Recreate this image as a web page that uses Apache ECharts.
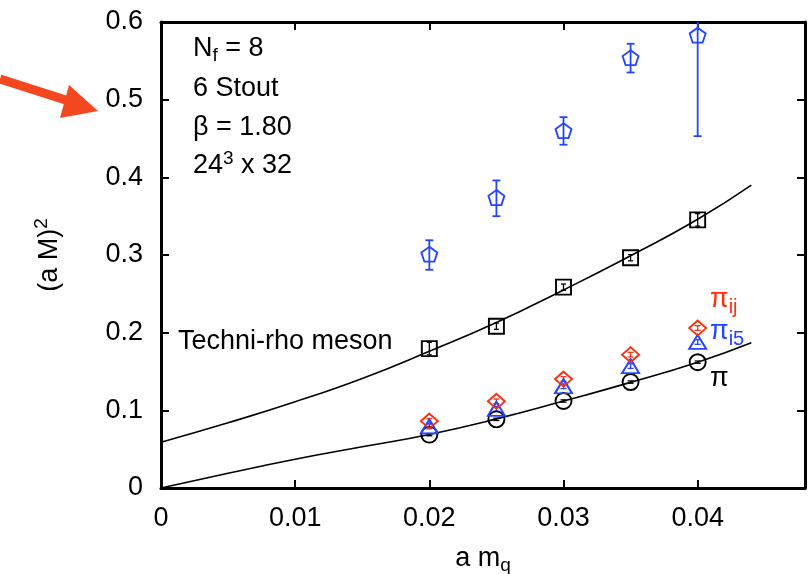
<!DOCTYPE html>
<html>
<head>
<meta charset="utf-8">
<script src="https://cdn.jsdelivr.net/npm/echarts@6/dist/echarts.min.js"></script>
<style>
  html, body { margin: 0; padding: 0; background: #fff; }
  #chart { width: 811px; height: 574px; }
</style>
</head>
<body>
<div id="chart"></div>
<script>
// Bare quark masses of the ensembles
const massQ = [0.02, 0.025, 0.03, 0.035, 0.04];

// Techni-rho meson (squares)
const rhoVal = [0.1795, 0.2083, 0.2586, 0.2965, 0.3452];
const rhoErr = [0.008, 0.004, 0.004, 0.004, 0.008];

// Goldstone pion (circles)
const piVal = [0.0687, 0.0884, 0.1120, 0.1364, 0.1620];
const piErr = [0.0015, 0.0015, 0.0015, 0.0015, 0.0015];

// pi_ij (diamonds)
const piIjVal = [0.0862, 0.1116, 0.1403, 0.1717, 0.2060];
const piIjErr = [0.003, 0.003, 0.003, 0.003, 0.003];

// pi_i5 (triangles)
const piI5Val = [0.0794, 0.1020, 0.1310, 0.1570, 0.1880];
const piI5Err = [0.003, 0.003, 0.003, 0.003, 0.003];

// Heavier state (pentagons), asymmetric errors: lower / upper ends
const pentVal = [0.301, 0.374, 0.460, 0.554, 0.583];
const pentLo  = [0.281, 0.350, 0.442, 0.535, 0.453];
const pentHi  = [0.319, 0.396, 0.4775, 0.572, 0.630];

// Fit curves, sampled along the quark mass
const fitX     = [0, 0.005, 0.01, 0.015, 0.02, 0.025, 0.03, 0.035, 0.04, 0.044];
const rhoFit   = [0.059, 0.084, 0.111, 0.141, 0.176, 0.213, 0.255, 0.299, 0.346, 0.390];
const piFit    = [0.000, 0.019, 0.037, 0.053, 0.069, 0.089, 0.112, 0.136, 0.162, 0.187];

// Tick labels
const xTicks = [0, 0.01, 0.02, 0.03, 0.04];
const yTicks = [0, 0.1, 0.2, 0.3, 0.4, 0.5, 0.6];

const FONT = '"Liberation Sans", Arial, Helvetica, sans-serif';
const FS = 27;
const RED = '#ff2e0c';
const BLUE = '#2444ff';

const zip = (xs, ys) => xs.map((x, i) => [x, ys[i]]);
const sym = (xs, v, e) => xs.map((x, i) => [x, v[i] - e[i], v[i] + e[i]]);

function errorBars(color, capHalf, lw) {
  return function (params, api) {
    const x = api.value(0), lo = api.value(1), hi = api.value(2);
    const a = api.coord([x, hi]);
    const b = api.coord([x, lo]);
    const style = { stroke: color, lineWidth: lw, fill: null };
    return {
      type: 'group',
      children: [
        { type: 'line', shape: { x1: a[0], y1: a[1], x2: b[0], y2: b[1] }, style },
        { type: 'line', shape: { x1: a[0] - capHalf, y1: a[1], x2: a[0] + capHalf, y2: a[1] }, style },
        { type: 'line', shape: { x1: b[0] - capHalf, y1: b[1], x2: b[0] + capHalf, y2: b[1] }, style }
      ]
    };
  };
}

const pentagon = 'path://M0,-1L0.951,-0.309L0.588,0.809L-0.588,0.809L-0.951,-0.309Z';

const axisLineStyle = { show: true, onZero: false, lineStyle: { color: '#000', width: 3 } };
const tickStyle = (vals) => ({ show: true, inside: true, length: 8, lineStyle: { color: '#000', width: 2 }, customValues: vals });

const chart = echarts.init(document.getElementById('chart'), null, { renderer: 'canvas' });

chart.setOption({
  animation: false,
  backgroundColor: '#fff',
  textStyle: { fontFamily: FONT },
  grid: { left: 161, right: 6, top: 22, bottom: 86, containLabel: false, outerBoundsMode: 'none' },
  xAxis: [
    {
      type: 'value', min: 0, max: 0.048, position: 'bottom',
      axisLine: axisLineStyle,
      axisTick: tickStyle(xTicks),
      axisLabel: { customValues: xTicks, color: '#000', fontSize: FS, fontFamily: FONT, margin: 17,
        formatter: v => String(+v.toFixed(3)) },
      splitLine: { show: false },
      name: 'a m{sub|q}', nameLocation: 'middle', nameGap: 54,
      nameTextStyle: { color: '#000', fontSize: FS, fontFamily: FONT,
        rich: { sub: { fontSize: 19, fontFamily: FONT, color: '#000', padding: [14, 0, 0, 0] } } }
    },
    {
      type: 'value', min: 0, max: 0.048, position: 'top',
      axisLine: axisLineStyle,
      axisTick: tickStyle(xTicks),
      axisLabel: { show: false },
      splitLine: { show: false }
    }
  ],
  yAxis: [
    {
      type: 'value', min: 0, max: 0.6, interval: 0.1, position: 'left',
      axisLine: axisLineStyle,
      axisTick: tickStyle(yTicks),
      axisLabel: { customValues: yTicks, color: '#000', fontSize: FS, fontFamily: FONT, margin: 18,
        formatter: v => String(+v.toFixed(2)) },
      splitLine: { show: false },
      name: '(a M){sup|2}', nameLocation: 'middle', nameGap: 94, nameRotate: 90,
      nameTextStyle: { color: '#000', fontSize: FS, fontFamily: FONT,
        rich: { sup: { fontSize: 19, fontFamily: FONT, color: '#000', padding: [0, 0, 16, 0] } } }
    },
    {
      type: 'value', min: 0, max: 0.6, interval: 0.1, position: 'right',
      axisLine: axisLineStyle,
      axisTick: tickStyle(yTicks),
      axisLabel: { show: false },
      splitLine: { show: false }
    }
  ],
  series: [
    {
      name: 'rho fit', type: 'line', smooth: true, showSymbol: false, silent: true,
      data: zip(fitX, rhoFit), lineStyle: { color: '#000', width: 1.6 }, z: 2
    },
    {
      name: 'pi fit', type: 'line', smooth: true, showSymbol: false, silent: true,
      data: zip(fitX, piFit), lineStyle: { color: '#000', width: 1.6 }, z: 2
    },
    {
      name: 'pent err', type: 'custom', clip: true, renderItem: errorBars(BLUE, 4, 1.8),
      data: massQ.map((x, i) => [x, pentLo[i], pentHi[i]]), z: 3
    },
    {
      name: 'rho err', type: 'custom', clip: true, renderItem: errorBars('#000', 2.5, 1.3),
      data: sym(massQ, rhoVal, rhoErr), z: 3
    },
    {
      name: 'pi err', type: 'custom', clip: true, renderItem: errorBars('#000', 3, 1.3),
      data: sym(massQ, piVal, piErr), z: 3
    },
    {
      name: 'pi_ij err', type: 'custom', clip: true, renderItem: errorBars(RED, 3, 1.3),
      data: sym(massQ, piIjVal, piIjErr), z: 3
    },
    {
      name: 'pi_i5 err', type: 'custom', clip: true, renderItem: errorBars(BLUE, 3, 1.3),
      data: sym(massQ, piI5Val, piI5Err), z: 3
    },
    {
      name: 'pentagon', type: 'scatter', symbol: pentagon, symbolSize: [16, 15],
      data: zip(massQ, pentVal),
      itemStyle: { color: 'rgba(0,0,0,0)', borderColor: BLUE, borderWidth: 1.8, opacity: 1 }, z: 4
    },
    {
      name: 'Techni-rho meson', type: 'scatter', symbol: 'rect', symbolSize: 15,
      data: zip(massQ, rhoVal),
      itemStyle: { color: 'rgba(0,0,0,0)', borderColor: '#000', borderWidth: 1.9, opacity: 1 }, z: 4
    },
    {
      name: 'pi', type: 'scatter', symbol: 'circle', symbolSize: 16,
      data: zip(massQ, piVal),
      itemStyle: { color: 'rgba(0,0,0,0)', borderColor: '#000', borderWidth: 1.9, opacity: 1 }, z: 4
    },
    {
      name: 'pi_i5', type: 'scatter', symbol: 'triangle', symbolSize: [17, 14],
      data: zip(massQ, piI5Val),
      itemStyle: { color: 'rgba(0,0,0,0)', borderColor: BLUE, borderWidth: 1.9, opacity: 1 }, z: 4
    },
    {
      name: 'pi_ij', type: 'scatter', symbol: 'diamond', symbolSize: [17, 15],
      data: zip(massQ, piIjVal),
      itemStyle: { color: 'rgba(0,0,0,0)', borderColor: RED, borderWidth: 1.9, opacity: 1 }, z: 4
    }
  ],
  graphic: [
    // Simulation parameters
    { type: 'text', left: 193, top: 35, z: 10,
      style: { text: 'N{sub|f} = 8', font: FS + 'px ' + FONT, fill: '#000',
        rich: { sub: { fontSize: 19, fontFamily: FONT, fill: '#000', padding: [14, 0, 0, 0] } } } },
    { type: 'text', left: 193, top: 75, z: 10,
      style: { text: '6 Stout', font: FS + 'px ' + FONT, fill: '#000' } },
    { type: 'text', left: 193, top: 114, z: 10,
      style: { text: 'β = 1.80', font: FS + 'px ' + FONT, fill: '#000' } },
    { type: 'text', left: 193, top: 149, z: 10,
      style: { text: '24{sup|3} x 32', font: FS + 'px ' + FONT, fill: '#000',
        rich: { sup: { fontSize: 19, fontFamily: FONT, fill: '#000', padding: [0, 0, 14, 0] } } } },
    // Series labels
    { type: 'text', left: 178, top: 328, z: 10,
      style: { text: 'Techni-rho meson', font: FS + 'px ' + FONT, fill: '#000' } },
    { type: 'text', left: 710, top: 286, z: 10,
      style: { text: 'π{sub|ij}', font: '27px ' + FONT, fill: RED,
        rich: { sub: { fontSize: 20, fontFamily: FONT, fill: RED, padding: [15, 0, 0, 0] } } } },
    { type: 'text', left: 710, top: 318, z: 10,
      style: { text: 'π{sub|i5}', font: '27px ' + FONT, fill: BLUE,
        rich: { sub: { fontSize: 20, fontFamily: FONT, fill: BLUE, padding: [15, 0, 0, 0] } } } },
    { type: 'text', left: 710, top: 365, z: 10,
      style: { text: 'π', font: '27px ' + FONT, fill: '#000' } },
    // Pointer arrow at the left margin
    { type: 'line', z: 10, shape: { x1: 0, y1: 79, x2: 72, y2: 102 },
      style: { stroke: '#f4471f', lineWidth: 9 } },
    { type: 'polygon', z: 10, shape: { points: [[98, 111], [69, 85], [60, 118]] },
      style: { fill: '#f4471f' } }
  ]
});
</script>
</body>
</html>
